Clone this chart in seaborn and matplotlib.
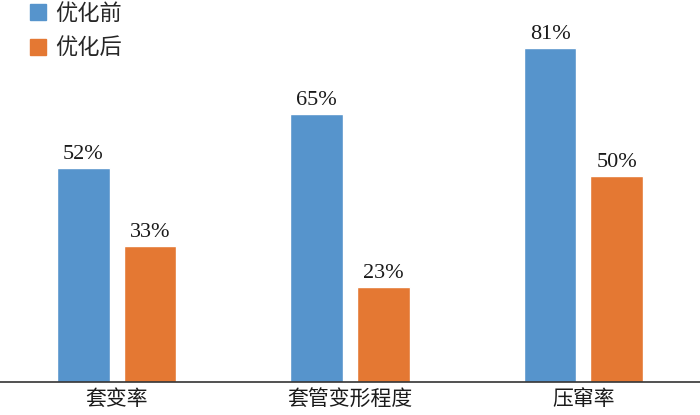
import pandas as pd
import seaborn as sns
import matplotlib.pyplot as plt
from matplotlib.lines import Line2D

categories = ["套变率", "套管变形程度", "压窜率"]
before = [52, 65, 81]
after = [33, 23, 50]
series_names = ["优化前", "优化后"]
colors = ["#5694CC", "#E47833"]

df = pd.DataFrame({
    "category": categories * 2,
    "value": before + after,
    "series": [series_names[0]] * 3 + [series_names[1]] * 3,
})

sns.set_style("white")
fonts = ["Liberation Serif", "Noto Sans CJK SC", "DejaVu Sans"]
plt.rcParams["font.family"] = fonts

fig = plt.figure(figsize=(7, 4.15), dpi=100)
ax = fig.add_axes([0, 33 / 415, 1, 382 / 415])

sns.barplot(data=df, x="category", y="value", hue="series", palette=colors,
            width=0.57, gap=0.21, saturation=1, ax=ax, legend=False)

for cont in ax.containers:
    ax.bar_label(cont, labels=[f"{int(v)}%" for v in cont.datavalues],
                 padding=3, fontsize=16, color="#1a1a1a")

ax.set_xlim(-0.5, 2.5)
ax.set_ylim(0, 92.7)
ax.set_xlabel("")
ax.set_ylabel("")
ax.set_yticks([])
ax.tick_params(axis="x", length=0, labelsize=15, pad=6, colors="#1a1a1a")
for s in ["top", "right", "left"]:
    ax.spines[s].set_visible(False)
ax.spines["bottom"].set_color("#333333")
ax.spines["bottom"].set_linewidth(1.2)

handles = [Line2D([0], [0], marker="s", linestyle="", markersize=12,
                  markerfacecolor=c, markeredgecolor=c) for c in colors]
leg = ax.legend(handles, series_names, loc="upper left",
                bbox_to_anchor=(0.025, 1.012), frameon=False, fontsize=16,
                handletextpad=0.3, labelspacing=0.6, borderaxespad=0.0,
                handlelength=1.0)

fig.savefig("out.png", dpi=100)
